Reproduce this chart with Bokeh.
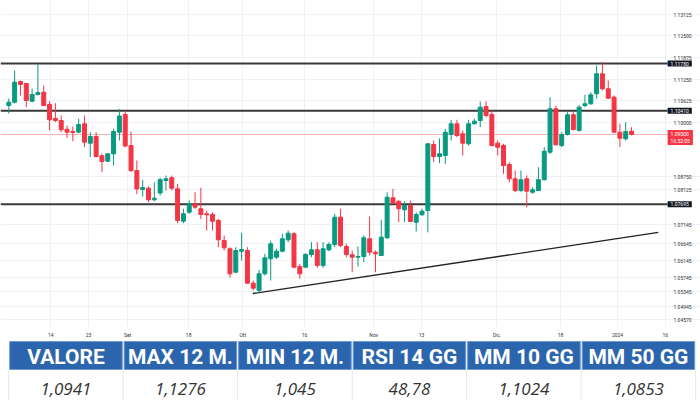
from bokeh.plotting import figure
from bokeh.models import Range1d, FixedTicker, Label, ColumnDataSource
from bokeh.layouts import column
from bokeh.embed import file_html
from bokeh.resources import INLINE
from bokeh.core.properties import value

# ---------------- data ----------------
opens = [1.10562, 1.10658, 1.11258, 1.11200, 1.10687, 1.10881, 1.10948, 1.10591, 1.10185, 1.10127,
         1.09874, 1.09808, 1.09788, 1.10031, 1.09469, 1.09663, 1.09103, 1.08947, 1.09162, 1.09788,
         1.10301, 1.09402, 1.08677, 1.08126, 1.08164, 1.07827, 1.08024, 1.08387, 1.08468, 1.08146,
         1.07207, 1.07468, 1.07713, 1.07567, 1.07422, 1.07401, 1.07227, 1.06647, 1.06406, 1.05728,
         1.06337, 1.06357, 1.05409, 1.05197, 1.05681, 1.06116, 1.06163, 1.06337, 1.06667, 1.06841,
         1.05893, 1.05873, 1.06241, 1.06377, 1.05922, 1.06377, 1.06531, 1.07323, 1.06473, 1.06232,
         1.06163, 1.06183, 1.06696, 1.06308, 1.06212, 1.06725, 1.07885, 1.07787, 1.07537, 1.07662,
         1.07178, 1.07392, 1.07517, 1.09431, 1.09083, 1.09112, 1.09721, 1.10031, 1.09741, 1.09451,
         1.10031, 1.10127, 1.10533, 1.10301, 1.09469, 1.09402, 1.08851, 1.08436, 1.08097, 1.08436,
         1.08048, 1.08097, 1.08410, 1.09208, 1.10466, 1.09402, 1.09721, 1.10292, 1.09837, 1.10562,
         1.10611, 1.10901, 1.11481, 1.11046, 1.10803, 1.09788, 1.09596, 1.09817]
closes = [1.10658, 1.11238, 1.11171, 1.10707, 1.10881, 1.10939, 1.10562, 1.10147, 1.10127, 1.09857,
          1.09788, 1.09779, 1.10011, 1.09498, 1.09663, 1.09083, 1.08938, 1.09162, 1.09808, 1.10257,
          1.09388, 1.08677, 1.08140, 1.08184, 1.07827, 1.07874, 1.08410, 1.08436, 1.08164, 1.07227,
          1.07422, 1.07713, 1.07613, 1.07401, 1.07392, 1.07207, 1.06667, 1.06435, 1.05681, 1.06357,
          1.06386, 1.05409, 1.05264, 1.05681, 1.06145, 1.06551, 1.06337, 1.06696, 1.06859, 1.05873,
          1.05681, 1.06241, 1.06377, 1.05922, 1.06406, 1.06531, 1.07323, 1.06502, 1.06241, 1.06163,
          1.06183, 1.06725, 1.06308, 1.06261, 1.06743, 1.07903, 1.07729, 1.07567, 1.07662, 1.07198,
          1.07401, 1.07497, 1.09451, 1.09083, 1.09162, 1.09788, 1.10031, 1.09692, 1.09469, 1.10031,
          1.10107, 1.10513, 1.10272, 1.09402, 1.09353, 1.08822, 1.08436, 1.08097, 1.08410, 1.08077,
          1.08117, 1.08410, 1.09237, 1.10466, 1.09422, 1.09721, 1.10292, 1.09866, 1.10513, 1.10611,
          1.10872, 1.11481, 1.11046, 1.10774, 1.09788, 1.09614, 1.09808, 1.09721]
highs = [1.10765, 1.11577, 1.11287, 1.11209, 1.11055, 1.11771, 1.11142, 1.10687, 1.10629, 1.10272,
         1.09982, 1.09953, 1.10176, 1.10272, 1.09788, 1.09788, 1.09168, 1.09168, 1.09886, 1.10460,
         1.10402, 1.09808, 1.08967, 1.08402, 1.08213, 1.08338, 1.08468, 1.08532, 1.08532, 1.08291,
         1.07567, 1.07807, 1.08046, 1.08176, 1.07517, 1.07468, 1.07274, 1.06792, 1.06453, 1.06453,
         1.06870, 1.06453, 1.05487, 1.05797, 1.06261, 1.06647, 1.06406, 1.06841, 1.06937, 1.06888,
         1.05971, 1.06279, 1.06598, 1.06598, 1.06598, 1.06598, 1.07422, 1.07567, 1.06551, 1.06357,
         1.06473, 1.06792, 1.07343, 1.06357, 1.07247, 1.08048, 1.08146, 1.07807, 1.07787, 1.07807,
         1.07468, 1.07567, 1.09469, 1.09547, 1.09605, 1.09886, 1.10147, 1.10147, 1.09837, 1.10147,
         1.10176, 1.10678, 1.10687, 1.10417, 1.09547, 1.09451, 1.08918, 1.08677, 1.08677, 1.08532,
         1.08193, 1.08773, 1.09353, 1.10803, 1.10562, 1.09788, 1.10368, 1.10368, 1.10582, 1.10872,
         1.10948, 1.11722, 1.11818, 1.11287, 1.10852, 1.10031, 1.10078, 1.09933]
lows = [1.10330, 1.10620, 1.10852, 1.10513, 1.10658, 1.10852, 1.10548, 1.09837, 1.10078, 1.09788,
        1.09625, 1.09527, 1.09759, 1.09353, 1.09063, 1.09054, 1.08628, 1.08918, 1.08822, 1.09547,
        1.09344, 1.08628, 1.07996, 1.07923, 1.07758, 1.07787, 1.07952, 1.08097, 1.08097, 1.07149,
        1.07149, 1.07422, 1.07567, 1.07274, 1.06937, 1.06937, 1.06453, 1.06357, 1.05565, 1.05699,
        1.06067, 1.05390, 1.05197, 1.05119, 1.05632, 1.05487, 1.06116, 1.06308, 1.06598, 1.05844,
        1.05536, 1.05856, 1.06163, 1.05856, 1.05856, 1.06337, 1.06453, 1.06453, 1.06163, 1.05728,
        1.05893, 1.06018, 1.06212, 1.05728, 1.06197, 1.06696, 1.07711, 1.07178, 1.07178, 1.07178,
        1.06911, 1.07372, 1.06882, 1.08918, 1.08889, 1.08871, 1.09547, 1.09643, 1.09112, 1.09402,
        1.10011, 1.09933, 1.10223, 1.09373, 1.09112, 1.08581, 1.08338, 1.08048, 1.08048, 1.07613,
        1.08001, 1.08077, 1.08387, 1.09161, 1.09402, 1.09353, 1.09692, 1.09837, 1.09808, 1.10513,
        1.10582, 1.10756, 1.10997, 1.10756, 1.09770, 1.09353, 1.09547, 1.09692]

date_ticks = [7.2, 13.7, 20.4, 30.9, 40.2, 50.8, 62.7, 70.9, 83.8, 94.8, 104.6, 112.8]
date_labels = ["14", "23", "Set", "18", "Ott", "16", "Nov", "13", "Dic", "18", "2024", "16"]

price_ticks = [1.13201, 1.12592, 1.11954, 1.11316, 1.10707, 1.10069, 1.08503, 1.08126,
               1.07111, 1.06560, 1.06067, 1.05574, 1.05168, 1.04733, 1.04356]
price_labels = ["1.13125", "1.12500", "1.11875", "1.11250", "1.10625", "1.10000", "1.08750",
                "1.08125", "1.07145", "1.06645", "1.06145", "1.05745", "1.05345", "1.04945", "1.04570"]

levels = [1.11780, 1.10410, 1.07695]
level_labels = ["1.11780", "1.10410", "1.07695"]
last_price_label = "1.09500\n16:52:05"

trend_x = [41.9, 111.6]
trend_y = [1.0511, 1.0688]

headers = ["VALORE", "MAX 12 M.", "MIN 12 M.", "RSI 14 GG", "MM 10 GG", "MM 50 GG"]
values = ["1,0941", "1,1276", "1,045", "48,78", "1,1024", "1,0853"]

# ---------------- style / layout ----------------
UP = "#089981"
DOWN = "#f23645"
W = 700
CHART_H = 340
TABLE_H = 60
X_LO, X_HI = -1.43, 118.85          # candle-index units, frame spans the whole width
Y_LO, Y_HI = 1.04153, 1.13607
SCALE_X = 114.2                     # where price-scale labels start
BOX_X = 113.2                       # where price-scale boxes start
CLOCK_X = 115.9

n = len(opens)
xs = list(range(n))
colors = [UP if c >= o else DOWN for o, c in zip(opens, closes)]
src = ColumnDataSource(dict(
    x=xs, h=highs, l=lows,
    top=[max(o, c) for o, c in zip(opens, closes)],
    bot=[min(o, c) for o, c in zip(opens, closes)],
    color=colors))

p = figure(width=W, height=CHART_H, x_range=Range1d(X_LO, X_HI), y_range=Range1d(Y_LO, Y_HI),
           toolbar_location=None, output_backend="svg", y_axis_location=None,
           min_border_left=0, min_border_top=0, min_border_right=0, min_border_bottom=14)
p.outline_line_color = None
p.background_fill_color = "white"

# grid
p.xgrid.ticker = FixedTicker(ticks=date_ticks)
p.ygrid.ticker = FixedTicker(ticks=price_ticks)
p.grid.grid_line_color = "#f0f1f4"
p.grid.grid_line_width = 1

# time axis
p.xaxis.ticker = FixedTicker(ticks=date_ticks)
p.xaxis.major_label_overrides = {t: l for t, l in zip(date_ticks, date_labels)}
p.xaxis.axis_line_color = None
p.xaxis.major_tick_line_color = None
p.xaxis.minor_tick_line_color = None
p.xaxis.major_tick_out = 0
p.xaxis.major_tick_in = 0
p.xaxis.minor_tick_out = 0
p.xaxis.major_label_text_font_size = "5px"
p.xaxis.major_label_text_color = "#333333"
p.xaxis.major_label_text_font = "Roboto"
p.xaxis.major_label_standoff = 5

# price scale labels (overlaid on the chart, as in the original)
p.text(x=[SCALE_X] * len(price_ticks), y=price_ticks, text=price_labels, text_align="left",
       text_baseline="middle", text_font=value("Roboto"), text_font_size="5px",
       text_color="#333333")

# last price line
p.segment(x0=[X_LO], y0=[closes[-1]], x1=[BOX_X], y1=[closes[-1]], line_color="#f6b3b8",
          line_width=1)

# price level lines
p.segment(x0=[X_LO] * len(levels), y0=levels, x1=[BOX_X] * len(levels), y1=levels,
          line_color="#3a3a3a", line_width=2)

# trend line
p.line(trend_x, trend_y, line_color="#222222", line_width=1.3)

# candles
p.segment(x0="x", y0="h", x1="x", y1="l", color="color", line_width=1, source=src)
p.vbar(x="x", width=0.68, top="top", bottom="bot", fill_color="color", line_color="color",
       line_width=1, source=src)

# level boxes on the price scale
for lv, txt in zip(levels, level_labels):
    p.add_layout(Label(x=BOX_X, y=lv, text=txt, text_font_size="5px",
                       text_color="white", text_font="Roboto", text_baseline="middle",
                       text_align="left", background_fill_color="#131722", padding=(3, 1)))
p.add_layout(Label(x=BOX_X, y=closes[-1], y_offset=-3, text=last_price_label,
                   text_font_size="5px", text_color="white", text_font="Roboto",
                   text_baseline="middle", text_align="left", background_fill_color=DOWN,
                   padding=(3, 1)))
p.add_layout(Label(x=CLOCK_X, y=Y_LO, y_offset=-3, text="◷",
                   text_font_size="8px", text_color="#555555", text_baseline="top",
                   text_align="center"))

# ---------------- table ----------------
t = figure(width=W, height=TABLE_H, x_range=Range1d(-0.0716, 6.042), y_range=Range1d(60, 0),
           toolbar_location=None, output_backend="svg", min_border=0)
t.axis.visible = False
t.grid.visible = False
t.outline_line_color = None
cx = [i + 0.5 for i in range(len(headers))]
t.rect(x=cx, y=15, width=0.983, height=28, fill_color="#2b65ad", line_color="#6d9ad4",
       line_width=1)
t.text(x=cx, y=16, text=headers, text_align="center", text_baseline="middle",
       text_color="white", text_font=value("Roboto"), text_font_style="bold",
       text_font_size="21px")
t.segment(x0=[0, 1, 2, 3, 4, 5, 6], y0=[30] * 7, x1=[0, 1, 2, 3, 4, 5, 6], y1=[60] * 7,
          line_color="#e6e6e6", line_width=1)
t.text(x=cx, y=48, text=values, text_align="center", text_baseline="middle",
       text_color="#333333", text_font=value("Open Sans"), text_font_style="italic",
       text_font_size="17px")

layout = column(p, t, spacing=0)
open("out.html", "w").write(file_html(layout, INLINE))
